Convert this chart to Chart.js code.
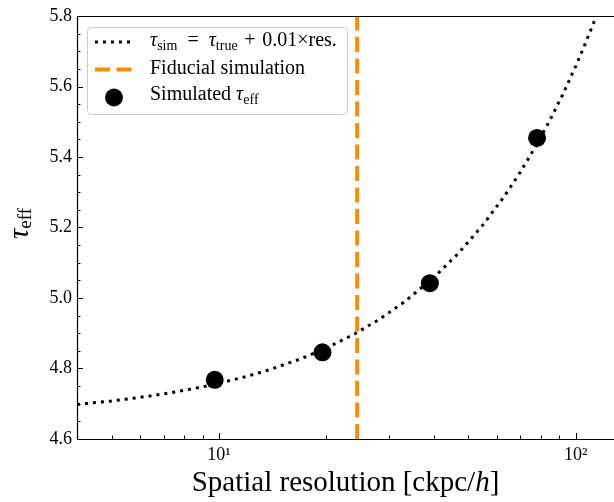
<!DOCTYPE html>
<html>
<head>
<meta charset="utf-8">
<script src="https://cdn.jsdelivr.net/npm/chart.js@4.4.1/dist/chart.umd.min.js"></script>
<style>
  html, body { margin: 0; padding: 0; background: #fff; }
  #wrap { width: 614px; height: 502px; }
</style>
</head>
<body>
<div id="wrap"><canvas id="tauChart" width="614" height="502"></canvas></div>
<script>
// Puntos simulados
const simRes = [9.73, 19.5, 39.0, 77.9];
const simTau = [4.768, 4.846, 5.042, 5.454];

// Curva punteada tau_sim = tau_true + 0.01 x res (valores leidos sobre la linea)
const fitRes = [4, 5, 6, 7, 8, 9, 10, 12, 14, 17, 20, 24, 28, 33, 40, 47, 55, 63, 70, 78, 85, 92, 100, 107, 114, 120, 128];
const fitTau = [4.698, 4.708, 4.718, 4.728, 4.738, 4.748, 4.758, 4.778, 4.798, 4.828, 4.858, 4.898, 4.938, 4.988, 5.058, 5.128, 5.208, 5.288, 5.358, 5.438, 5.508, 5.578, 5.658, 5.728, 5.798, 5.858, 5.938];

// Simulacion fiducial
const fiducialRes = 24.4;

// Ejes
const resRange = [4, 128];
const tauRange = [4.6, 5.8];
const xMajorTicks = [10, 100];
const xMajorLabels = ['10¹', '10²'];
const xMinorTicks = [4, 5, 6, 7, 8, 9, 20, 30, 40, 50, 60, 70, 80, 90];
const yMajorTicks = [4.6, 4.8, 5.0, 5.2, 5.4, 5.6, 5.8];
const yMinorTicks = [4.65, 4.7, 4.75, 4.85, 4.9, 4.95, 5.05, 5.1, 5.15, 5.25, 5.3, 5.35, 5.45, 5.5, 5.55, 5.65, 5.7, 5.75];

const SERIF = '"Liberation Serif", "Times New Roman", serif';
const ORANGE = '#ff8c00';

// Texto con subindices: lista de trozos {t, font, dy}
function drawRich(ctx, parts, x, y) {
    for (const p of parts) {
        ctx.font = p.font;
        ctx.fillText(p.t, x, y + (p.dy || 0));
        x += ctx.measureText(p.t).width;
    }
    return x;
}
function richWidth(ctx, parts) {
    let w = 0;
    for (const p of parts) { ctx.font = p.font; w += ctx.measureText(p.t).width; }
    return w;
}

const decorPlugin = {
    id: 'decor',
    afterDraw: (chart) => {
        const { ctx, chartArea: a } = chart;
        const x = chart.scales.x, y = chart.scales.y;
        ctx.save();

        // Bordes
        ctx.strokeStyle = '#000';
        ctx.lineWidth = 1.2;
        ctx.beginPath();
        ctx.moveTo(a.left, a.top + 0.5); ctx.lineTo(a.right, a.top + 0.5);
        ctx.moveTo(a.left + 0.5, a.top); ctx.lineTo(a.left + 0.5, a.bottom + 0.5); ctx.lineTo(a.right, a.bottom + 0.5);
        ctx.stroke();

        // Ticks hacia dentro
        ctx.lineWidth = 1;
        ctx.beginPath();
        xMajorTicks.forEach(v => { const px = Math.round(x.getPixelForValue(v)) + 0.5; ctx.moveTo(px, a.bottom); ctx.lineTo(px, a.bottom - 6); });
        xMinorTicks.forEach(v => { const px = Math.round(x.getPixelForValue(v)) + 0.5; ctx.moveTo(px, a.bottom); ctx.lineTo(px, a.bottom - 3.5); });
        yMajorTicks.forEach(v => { const py = Math.round(y.getPixelForValue(v)) + 0.5; ctx.moveTo(a.left, py); ctx.lineTo(a.left + 6, py); });
        yMinorTicks.forEach(v => { const py = Math.round(y.getPixelForValue(v)) + 0.5; ctx.moveTo(a.left, py); ctx.lineTo(a.left + 3.5, py); });
        ctx.stroke();

        // Leyenda
        const lx = 87, ly = 27, lw = 260, lh = 87;
        ctx.fillStyle = 'rgba(255,255,255,0.8)';
        ctx.strokeStyle = '#cccccc';
        ctx.lineWidth = 1;
        ctx.beginPath();
        ctx.roundRect(lx + 0.5, ly + 0.5, lw, lh, 4);
        ctx.fill();
        ctx.stroke();

        const fitDs = chart.data.datasets[1];
        const fidDs = chart.data.datasets[2];
        ctx.lineCap = 'butt';
        ctx.strokeStyle = fitDs.borderColor;
        ctx.lineWidth = fitDs.borderWidth;
        ctx.setLineDash(fitDs.borderDash);
        ctx.beginPath(); ctx.moveTo(95, 42); ctx.lineTo(134, 42); ctx.stroke();
        ctx.strokeStyle = fidDs.borderColor;
        ctx.lineWidth = fidDs.borderWidth;
        ctx.setLineDash(fidDs.borderDash);
        ctx.beginPath(); ctx.moveTo(95, 69.5); ctx.lineTo(134, 69.5); ctx.stroke();
        ctx.setLineDash([]);
        ctx.fillStyle = '#000';
        ctx.beginPath(); ctx.arc(114, 97.5, 9, 0, Math.PI * 2); ctx.fill();

        const f = `20px ${SERIF}`, fi = `italic 20px ${SERIF}`, fs = `14px ${SERIF}`;
        ctx.textAlign = 'left';
        ctx.textBaseline = 'alphabetic';
        drawRich(ctx, [
            { t: 'τ', font: fi }, { t: 'sim', font: fs, dy: 4 },
            { t: '\u2002=\u2002', font: f },
            { t: 'τ', font: fi }, { t: 'true', font: fs, dy: 4 },
            { t: '\u2004+\u20040.01×res.', font: f }
        ], 150, 46);
        drawRich(ctx, [{ t: 'Fiducial simulation', font: f }], 150, 74);
        drawRich(ctx, [{ t: 'Simulated ', font: f }, { t: 'τ', font: fi }, { t: 'eff', font: fs, dy: 4 }], 150, 100);

        // Titulo eje X
        const xt = [
            { t: 'Spatial resolution [ckpc/', font: `29px ${SERIF}` },
            { t: 'h', font: `italic 29px ${SERIF}` },
            { t: ']', font: `29px ${SERIF}` }
        ];
        const xw = richWidth(ctx, xt);
        drawRich(ctx, xt, (a.left + a.right) / 2 - xw / 2, 491);

        // Titulo eje Y
        const yt = [
            { t: 'τ', font: `italic 29px ${SERIF}` },
            { t: 'eff', font: `19px ${SERIF}`, dy: 3 }
        ];
        const yw = richWidth(ctx, yt);
        ctx.translate(28, (a.top + a.bottom) / 2 - 4);
        ctx.rotate(-Math.PI / 2);
        drawRich(ctx, yt, -yw / 2, 0);

        ctx.restore();
    }
};

new Chart(document.getElementById('tauChart'), {
    type: 'line',
    data: {
        datasets: [
            {
                label: 'Simulated tau_eff',
                data: simRes.map((r, i) => ({ x: r, y: simTau[i] })),
                showLine: false,
                pointRadius: 9,
                pointBackgroundColor: '#000',
                pointBorderWidth: 0,
                order: 0
            },
            {
                label: 'tau_sim = tau_true + 0.01 x res.',
                data: fitRes.map((r, i) => ({ x: r, y: fitTau[i] })),
                borderColor: '#000',
                borderWidth: 3,
                borderDash: [3, 5],
                borderCapStyle: 'butt',
                pointRadius: 0,
                tension: 0,
                order: 1
            },
            {
                label: 'Fiducial simulation',
                data: [{ x: fiducialRes, y: tauRange[0] }, { x: fiducialRes, y: tauRange[1] }],
                borderColor: ORANGE,
                borderWidth: 4,
                borderDash: [15, 6.5],
                borderCapStyle: 'butt',
                pointRadius: 0,
                order: 2
            }
        ]
    },
    options: {
        responsive: false,
        animation: false,
        devicePixelRatio: 1,
        layout: { autoPadding: false, padding: { top: 16, left: 0, right: 0, bottom: 0 } },
        plugins: {
            legend: { display: false },
            tooltip: { enabled: false }
        },
        scales: {
            x: {
                type: 'logarithmic',
                min: resRange[0],
                max: resRange[1],
                grid: { display: false, drawTicks: false },
                border: { display: false },
                afterBuildTicks: (scale) => { scale.ticks = xMajorTicks.map(v => ({ value: v })); },
                afterFit: (scale) => {
                    scale.height = 63;
                    scale.paddingLeft = 0;
                    scale.paddingRight = 0;
                },
                ticks: {
                    autoSkip: false,
                    maxRotation: 0,
                    padding: 5,
                    color: '#000',
                    font: { family: SERIF, size: 18 },
                    callback: (value) => {
                        const i = xMajorTicks.indexOf(value);
                        return i >= 0 ? xMajorLabels[i] : '';
                    }
                }
            },
            y: {
                type: 'linear',
                min: tauRange[0],
                max: tauRange[1],
                grid: { display: false, drawTicks: false },
                border: { display: false },
                afterBuildTicks: (scale) => { scale.ticks = yMajorTicks.map(v => ({ value: v })); },
                afterFit: (scale) => {
                    scale.width = 77;
                    scale.paddingTop = 0;
                    scale.paddingBottom = 0;
                },
                ticks: {
                    padding: 5,
                    color: '#000',
                    font: { family: SERIF, size: 18 },
                    callback: (value) => value.toFixed(1)
                }
            }
        }
    },
    plugins: [decorPlugin]
});
</script>
</body>
</html>
